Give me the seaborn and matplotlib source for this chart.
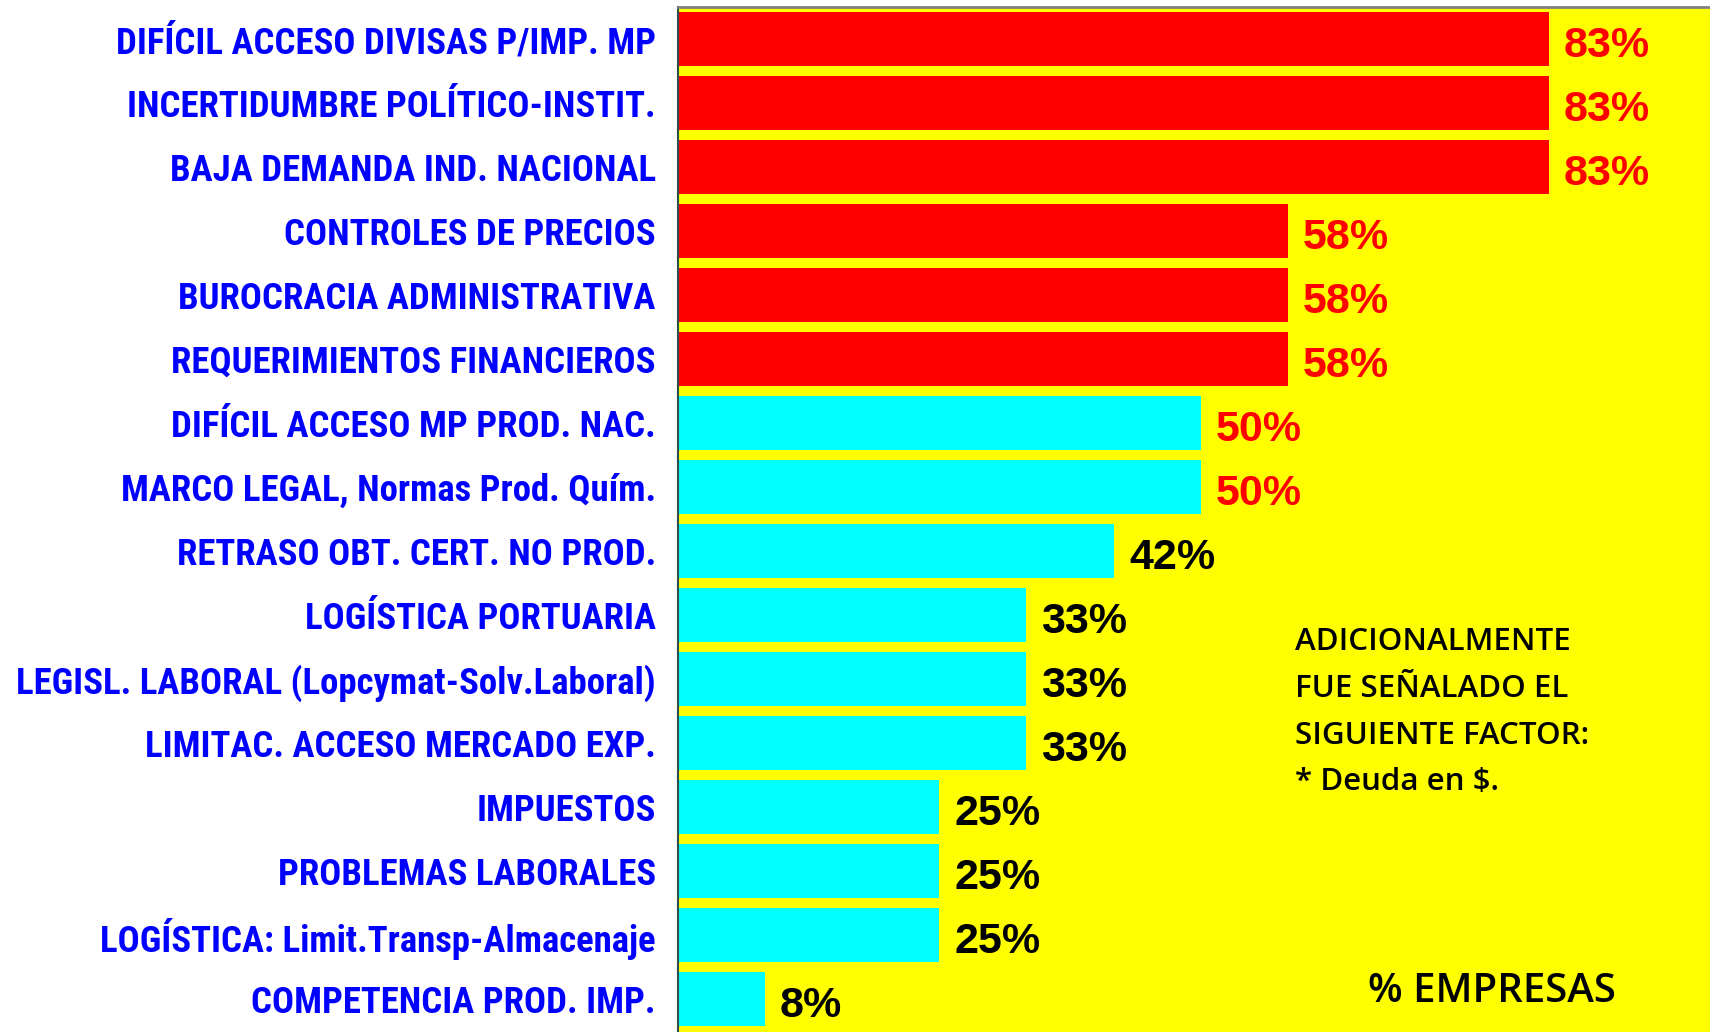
import numpy as np
import pandas as pd
import matplotlib
matplotlib.use("Agg")
import matplotlib.pyplot as plt
import seaborn as sns

# factores limitantes y % de empresas que los señalan
factores = [
    "DIFÍCIL ACCESO DIVISAS P/IMP. MP",
    "INCERTIDUMBRE POLÍTICO-INSTIT.",
    "BAJA DEMANDA IND. NACIONAL",
    "CONTROLES DE PRECIOS",
    "BUROCRACIA ADMINISTRATIVA",
    "REQUERIMIENTOS FINANCIEROS",
    "DIFÍCIL ACCESO MP PROD. NAC.",
    "MARCO LEGAL, Normas Prod. Quím.",
    "RETRASO OBT. CERT. NO PROD.",
    "LOGÍSTICA PORTUARIA",
    "LEGISL. LABORAL (Lopcymat-Solv.Laboral)",
    "LIMITAC. ACCESO MERCADO EXP.",
    "IMPUESTOS",
    "PROBLEMAS LABORALES",
    "LOGÍSTICA: Limit.Transp-Almacenaje",
    "COMPETENCIA PROD. IMP.",
]
porcentajes = [83.3, 83.3, 83.3, 58.3, 58.3, 58.3, 50.0, 50.0, 41.7,
               33.3, 33.3, 33.3, 25.0, 25.0, 25.0, 8.3]
etiquetas = ["83%", "83%", "83%", "58%", "58%", "58%", "50%", "50%", "42%",
             "33%", "33%", "33%", "25%", "25%", "25%", "8%"]

df = pd.DataFrame({"factor": factores, "pct": porcentajes, "etiqueta": etiquetas})
df["color"] = np.where(df["pct"] > 55, "#FF0000", "#00FFFF")
df["color_txt"] = np.where(df["pct"] >= 50, "#FF0000", "#000000")

sns.set_style("white")
plt.rcParams["font.family"] = ["Liberation Sans", "DejaVu Sans"]

fig = plt.figure(figsize=(17.1, 10.32), dpi=100)
ax = fig.add_axes([678 / 1710, 0.0, 1 - 678 / 1710, 1 - 7 / 1032])

sns.barplot(data=df, x="pct", y="factor", hue="factor", palette=list(df["color"]),
            legend=False, width=0.84, orient="h", saturation=1, linewidth=0, ax=ax)

ax.set_facecolor("#FFFF00")
ax.set_xlim(0, 98.7)
ax.set_ylim(15.5 + 0.016, -0.5)
ax.set_xlabel("")
ax.set_ylabel("")
ax.set_xticks([])

# categorías en azul, fuente estrecha; marcas en los límites de categoría
ax.tick_params(axis="y", which="major", length=0, pad=16, labelsize=26.5,
               labelcolor="#0000FF")
for t in ax.get_yticklabels():
    t.set_fontweight("bold")
    t.set_family(["Roboto Condensed", "Liberation Sans", "DejaVu Sans"])
ax.set_yticks(np.arange(-0.5, 16, 1), minor=True)
ax.tick_params(axis="y", which="minor", length=9, width=1.5, color="#333333",
               direction="out")

for s in ["right", "bottom"]:
    ax.spines[s].set_visible(False)
ax.spines["left"].set_color("#2F4F4F")
ax.spines["left"].set_linewidth(1.5)
ax.spines["top"].set_color("#808080")
ax.spines["top"].set_linewidth(2)

for i, row in df.iterrows():
    ax.annotate(row["etiqueta"], (row["pct"], i), xytext=(15, -7),
                textcoords="offset pixels", va="center", ha="left",
                fontsize=31, fontweight="bold", color=row["color_txt"])

nota = "ADICIONALMENTE\nFUE SEÑALADO EL\nSIGUIENTE FACTOR:\n* Deuda en $."
ax.text(1295 / 1710, 1 - 627 / 1032, nota, transform=fig.transFigure,
        ha="left", va="top", fontsize=22.5, linespacing=1.73, fontweight="semibold",
        family=["Open Sans", "Noto Sans", "DejaVu Sans"], color="black")
ax.text(1492 / 1710, 1 - 992 / 1032, "% EMPRESAS", transform=fig.transFigure,
        ha="center", va="center", fontsize=29, fontweight="semibold",
        family=["Open Sans", "Noto Sans", "DejaVu Sans"], color="black")

fig.savefig("out.png", dpi=100)
